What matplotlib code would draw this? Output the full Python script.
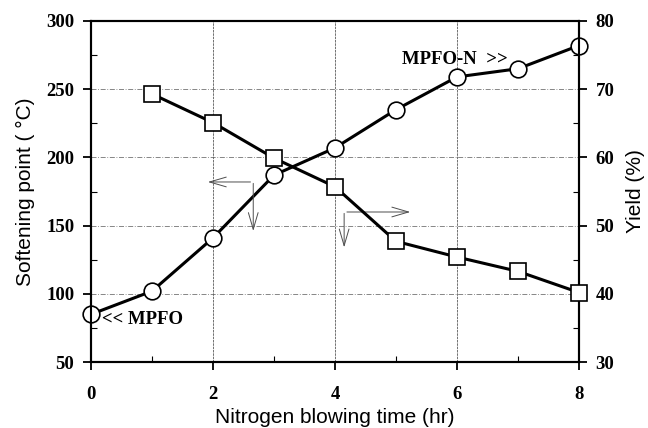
"""Softening point and yield vs nitrogen blowing time."""
import matplotlib
matplotlib.use("Agg")
import matplotlib.pyplot as plt

# ---------- data
time_sp = [0, 1, 2, 3, 4, 5, 6, 7, 8]
softening_point = [85, 102, 141, 187, 207, 235, 259, 265, 282]

time_yield = [1, 2, 3, 4, 5, 6, 7, 8]
yield_pct = [69.3, 65.1, 59.9, 55.7, 47.7, 45.4, 43.3, 40.2]

x_ticks = [0, 2, 4, 6, 8]
sp_ticks = [50, 100, 150, 200, 250, 300]
yield_ticks = [30, 40, 50, 60, 70, 80]

serif_bold = dict(family="Liberation Serif", fontweight="bold")
sans = "Liberation Sans"

fig = plt.figure(figsize=(6.48, 4.28), dpi=100)
ax = fig.add_axes([0.1404, 0.154, 0.7531, 0.797])
ax2 = ax.twinx()

# grid
for v in sp_ticks[1:-1]:
    ax.axhline(v, color="0.45", lw=0.6, ls=(0, (6, 2, 1, 2)), zorder=0)
for v in x_ticks[1:-1]:
    ax.axvline(v, color="0.35", lw=0.6, ls=(0, (3, 1)), zorder=0)

ax.plot(time_sp, softening_point, "-o", color="black", lw=2.2, ms=12,
        mfc="white", mec="black", mew=1.2, zorder=3, clip_on=False)
ax2.plot(time_yield, yield_pct, "-s", color="black", lw=2.2, ms=11.5,
         mfc="white", mec="black", mew=1.2, zorder=3, clip_on=False)

ax.set_xlim(0, 8)
ax.set_ylim(50, 300)
ax2.set_ylim(30, 80)
ax.set_xticks(x_ticks)
ax.set_xticks([1, 3, 5, 7], minor=True)
ax.set_yticks(sp_ticks)
ax.set_yticks([75, 125, 175, 225, 275], minor=True)
ax2.set_yticks(yield_ticks)
ax2.set_yticks([35, 45, 55, 65, 75], minor=True)

for a in (ax, ax2):
    for s in a.spines.values():
        s.set_linewidth(1.5)
    a.tick_params(which="major", direction="out", length=6, width=1.3, pad=6)
    a.tick_params(which="minor", direction="in", length=4, width=0.8)
ax.tick_params(axis="x", pad=11)
ax.set_xticklabels([str(v) for v in x_ticks], fontsize=13.5, **serif_bold)
ax.set_yticklabels([str(v) for v in sp_ticks], fontsize=13.5, **serif_bold)
ax2.set_yticklabels([str(v) for v in yield_ticks], fontsize=13.5, **serif_bold)

ax.set_xlabel("Nitrogen blowing time (hr)", family=sans, fontsize=15, labelpad=4)
ax.set_ylabel("Softening point ( \u00b0C)", family=sans, fontsize=15, labelpad=8)
ax2.set_ylabel("Yield (%)", family=sans, fontsize=15, labelpad=8)

# direction arrows pointing to each axis
arrow = dict(arrowstyle="->,head_length=1.2,head_width=0.35", color="0.3", lw=0.7)
ax.annotate("", xy=(1.87, 182), xytext=(2.66, 182), arrowprops=arrow)
ax.annotate("", xy=(2.66, 144), xytext=(2.66, 183), arrowprops=arrow)
ax.annotate("", xy=(5.28, 160), xytext=(4.15, 160), arrowprops=arrow)
ax.annotate("", xy=(4.15, 132), xytext=(4.15, 161), arrowprops=arrow)

ax.text(0.18, 81, "<< MPFO", fontsize=13.5, va="center", ha="left", **serif_bold)
ax.text(5.1, 272, "MPFO-N  >>", fontsize=13.5, va="center", ha="left", **serif_bold)

fig.savefig("out.png", dpi=100)
